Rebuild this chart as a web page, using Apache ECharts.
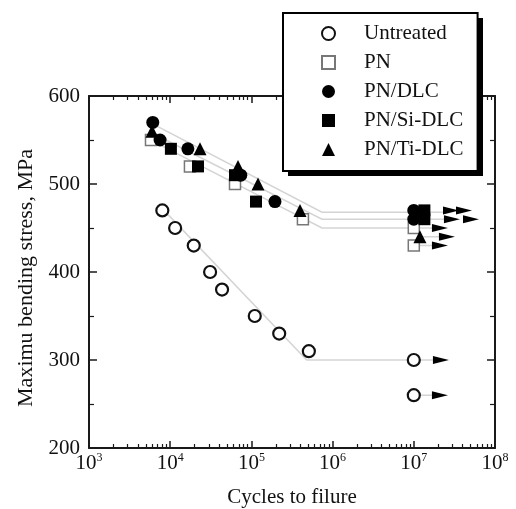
<!DOCTYPE html>
<html><head><meta charset="utf-8">
<script src="https://cdn.jsdelivr.net/npm/echarts@6/dist/echarts.min.js"></script>
<style>html,body{margin:0;padding:0;background:#fff}#c{width:516px;height:509px}</style>
</head><body><div id="c"></div><script>
// ---- data (cycles, MPa) ----
const untreatedX = [8000, 11500, 19500, 31000, 43500, 110000, 220000, 510000, 1e7, 1e7];
const untreatedY = [470, 450, 430, 400, 380, 350, 330, 310, 300, 260];
const pnX = [5800, 17500, 62800, 431000, 1e7, 1e7];
const pnY = [550, 520, 500, 460, 450, 430];
const dlcX = [6100, 7500, 16500, 74000, 195000, 1e7, 1e7];
const dlcY = [570, 550, 540, 510, 480, 470, 460];
const siX = [10200, 22000, 62800, 114000, 1.35e7, 1.35e7];
const siY = [540, 520, 510, 480, 470, 460];
const tiX = [5970, 23300, 68400, 120500, 397000, 1.19e7];
const tiY = [560, 540, 520, 500, 470, 440];
// run-out arrows (arrow-head centres)
const arrowX = [2.16e7, 2.1e7, 2.87e7, 4.15e7, 2.95e7, 5.06e7, 2.1e7, 2.56e7, 2.1e7];
const arrowY = [300, 260, 470, 470, 460, 460, 450, 440, 430];
// fitted lines
const fitUntreatedX = [8000, 480000, 1.72e7];
const fitUntreatedY = [472, 300, 300];
const fitUpperX = [6500, 740000, 2.4e7];
const fitUpperY = [567, 468, 468];
const fitMiddleX = [6000, 740000, 2.4e7];
const fitMiddleY = [558, 460, 460];
const fitLowerX = [6000, 740000, 2.4e7];
const fitLowerY = [549, 450, 450];
// short tails from run-out points to arrows
const tailX1 = [1e7, 1.19e7, 1e7];
const tailX2 = [1.75e7, 2.1e7, 1.75e7];
const tailY = [260, 440, 430];
// axes
const decades = [3, 4, 5, 6, 7];
const minorMultipliers = [2, 3, 4, 5, 6, 7, 8, 9];
const legendNames = ['Untreated', 'PN', 'PN/DLC', 'PN/Si-DLC', 'PN/Ti-DLC'];

const FONT = '"Liberation Serif", "Times New Roman", serif';
const L = Math.log10;
const pts = (xs, ys) => xs.map((x, i) => [L(x), ys[i]]);
const minorVals = [];
decades.forEach(d => minorMultipliers.forEach(m => minorVals.push(L(m * Math.pow(10, d)))));

const chart = echarts.init(document.getElementById('c'), null, {renderer: 'canvas'});
const gridRect = {left: 89, right: 21, top: 96, bottom: 61, outerBoundsMode: 'none'};
const lineCol = '#1a1a1a';
const grayLine = {color: '#aaaaaa', width: 1.5};

function fit(xs, ys) { return {coords: pts(xs, ys)}; }

const option = {
  backgroundColor: '#fff',
  animation: false,
  grid: [Object.assign({}, gridRect), Object.assign({}, gridRect)],
  graphic: [{type: 'rect', z: 9, shape: {x: 288, y: 18, width: 195, height: 158}, style: {fill: '#000'}}],
  legend: {
    orient: 'vertical', left: 283, top: 13,
    padding: [10, 14, 11, 38], itemGap: 8, itemWidth: 13, itemHeight: 13,
    backgroundColor: '#fff', borderColor: '#000', borderWidth: 2,
    textStyle: {fontFamily: FONT, fontSize: 21, color: '#111', lineHeight: 21, padding: [0, 0, 0, 24]},
    data: legendNames, z: 10
  },
  xAxis: [
    {gridIndex: 0, type: 'value', min: 3, max: 8, interval: 1, position: 'bottom',
     name: 'Cycles to filure', nameLocation: 'middle', nameGap: 39,
     nameTextStyle: {fontFamily: FONT, fontSize: 21, color: '#111'},
     axisLine: {lineStyle: {color: lineCol, width: 2}},
     axisTick: {inside: true, length: 7, lineStyle: {color: lineCol, width: 1.5}},
     axisLabel: {margin: 4, formatter: v => '{b|10}{s|' + Math.round(v) + '}',
       rich: {b: {fontFamily: FONT, fontSize: 21, color: '#111'},
              s: {fontFamily: FONT, fontSize: 12, color: '#111', padding: [0, 0, 11, 0]}}},
     splitLine: {show: false}},
    {gridIndex: 0, type: 'value', min: 3, max: 8, interval: 1, position: 'top',
     axisLine: {lineStyle: {color: lineCol, width: 2}},
     axisTick: {inside: true, length: 7, lineStyle: {color: lineCol, width: 1.5}},
     axisLabel: {show: false}, splitLine: {show: false}},
    {gridIndex: 1, type: 'value', min: 3, max: 8, position: 'bottom',
     axisLine: {show: false}, axisLabel: {show: false}, splitLine: {show: false},
     axisTick: {show: true, inside: true, length: 4, customValues: minorVals, lineStyle: {color: lineCol, width: 1.2}}},
    {gridIndex: 1, type: 'value', min: 3, max: 8, position: 'top',
     axisLine: {show: false}, axisLabel: {show: false}, splitLine: {show: false},
     axisTick: {show: true, inside: true, length: 4, customValues: minorVals, lineStyle: {color: lineCol, width: 1.2}}}
  ],
  yAxis: [
    {gridIndex: 0, type: 'value', min: 200, max: 600, interval: 100, position: 'left',
     name: 'Maximu bending stress, MPa', nameLocation: 'middle', nameGap: 52,
     nameTextStyle: {fontFamily: FONT, fontSize: 22, color: '#111', padding: [0, 12, 0, 0]},
     axisLine: {show: true, lineStyle: {color: lineCol, width: 2}},
     axisTick: {show: true, inside: true, length: 8, lineStyle: {color: lineCol, width: 1.5}},
     minorTick: {show: true, splitNumber: 2, length: 5, lineStyle: {color: lineCol, width: 1.2}},
     axisLabel: {margin: 9, fontFamily: FONT, fontSize: 21, color: '#111'},
     splitLine: {show: false}},
    {gridIndex: 0, type: 'value', min: 200, max: 600, interval: 100, position: 'right',
     axisLine: {show: true, lineStyle: {color: lineCol, width: 2}},
     axisTick: {show: true, inside: true, length: 8, lineStyle: {color: lineCol, width: 1.5}},
     minorTick: {show: true, splitNumber: 2, length: 5, lineStyle: {color: lineCol, width: 1.2}},
     axisLabel: {show: false}, splitLine: {show: false}},
    {gridIndex: 1, type: 'value', min: 200, max: 600, show: false}
  ],
  series: [
    {name: 'fit', type: 'lines', coordinateSystem: 'cartesian2d', polyline: true, z: 1,
     lineStyle: grayLine, silent: true,
     data: [fit(fitUntreatedX, fitUntreatedY), fit(fitUpperX, fitUpperY), fit(fitMiddleX, fitMiddleY), fit(fitLowerX, fitLowerY)]
       .concat(tailY.map((y, i) => ({coords: [[L(tailX1[i]), y], [L(tailX2[i]), y]]})))},
    {name: 'Untreated', type: 'scatter', symbol: 'circle', symbolSize: 12, z: 3,
     itemStyle: {color: '#fff', borderColor: '#111', borderWidth: 2.2, opacity: 1},
     data: pts(untreatedX, untreatedY)},
    {name: 'PN', type: 'scatter', symbol: 'rect', symbolSize: 11, z: 3,
     itemStyle: {color: '#fff', borderColor: '#777', borderWidth: 1.5, opacity: 1},
     data: pts(pnX, pnY)},
    {name: 'PN/Ti-DLC', type: 'scatter', symbol: 'triangle', symbolSize: 13, z: 3,
     itemStyle: {color: '#000', opacity: 1},
     data: pts(tiX, tiY)},
    {name: 'PN/DLC', type: 'scatter', symbol: 'circle', symbolSize: 13, z: 3,
     itemStyle: {color: '#000', opacity: 1},
     data: pts(dlcX, dlcY)},
    {name: 'PN/Si-DLC', type: 'scatter', symbol: 'rect', symbolSize: 12, z: 3,
     itemStyle: {color: '#000', opacity: 1},
     data: pts(siX, siY)},
    {name: 'arrows', type: 'scatter', symbol: 'path://M0,0L2,1L0,2Z', symbolSize: [16, 8], z: 3,
     itemStyle: {color: '#000', opacity: 1}, silent: true,
     data: pts(arrowX, arrowY)}
  ]
};
chart.setOption(option);
</script></body></html>
